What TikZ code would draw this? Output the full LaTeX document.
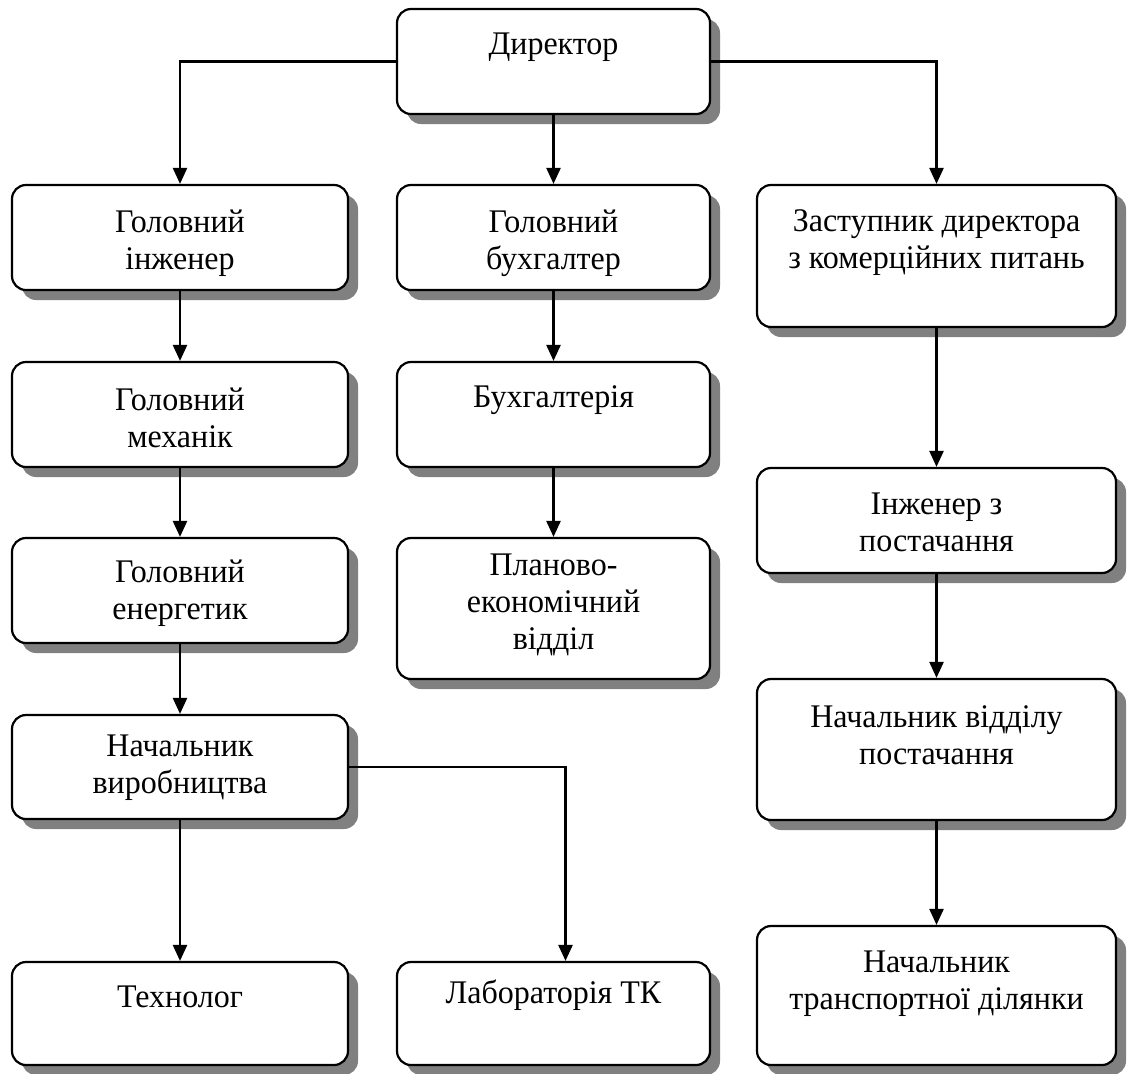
\documentclass[tikz,border=0pt]{standalone}
\usepackage{fontspec}
\setmainfont{Liberation Serif}
\newfontfamily\orgfont[FakeStretch=0.97]{Liberation Serif}
\usetikzlibrary{arrows.meta,shadows,fit}
\begin{document}
\begin{tikzpicture}[x=0.5pt,y=-0.5pt]
\tikzset{
 orgbox/.style={draw, line width=1.1pt, rounded corners=7pt, fill=white, inner sep=0pt,
   drop shadow={shadow xshift=5pt, shadow yshift=-5pt, fill=black!50, opacity=1}},
 lbl/.style={align=center, font=\orgfont\fontsize{16.5}{18.5}\selectfont, inner sep=0pt},
 arr/.style={line width=1.2pt, -{Triangle[length=8pt,width=7pt]}},
}
\useasboundingbox (0,0) rectangle (1128,1073);
% boxes
\node[orgbox, fit={(397,9) (710,114)}] (D) {};
\node[orgbox, fit={(12,185) (348,290)}] (GI) {};
\node[orgbox, fit={(397,185) (710,290)}] (GB) {};
\node[orgbox, fit={(757,185) (1116,327)}] (ZD) {};
\node[orgbox, fit={(12,362) (348,467)}] (GM) {};
\node[orgbox, fit={(397,362) (710,467)}] (BU) {};
\node[orgbox, fit={(757,468) (1116,573)}] (IP) {};
\node[orgbox, fit={(12,538) (348,643)}] (GE) {};
\node[orgbox, fit={(397,538) (710,679)}] (PE) {};
\node[orgbox, fit={(12,715) (348,819)}] (NV) {};
\node[orgbox, fit={(757,679) (1116,820)}] (NVP) {};
\node[orgbox, fit={(12,962) (348,1065)}] (TE) {};
\node[orgbox, fit={(397,962) (710,1065)}] (LA) {};
\node[orgbox, fit={(757,926) (1116,1065)}] (NT) {};
% labels
\node[lbl] (Dt) at (553.5,47) {Директор};
\node[lbl] (GIt) at (180,243) {Головний\\інженер};
\node[lbl] (GBt) at (553.5,243) {Головний\\бухгалтер};
\node[lbl] (ZDt) at (936.5,243) {Заступник директора\\з комерційних питань};
\node[lbl] (GMt) at (180,418) {Головний\\механік};
\node[lbl] (BUt) at (553.5,400) {Бухгалтерія};
\node[lbl] (IPt) at (936.5,522) {Інженер з\\постачання};
\node[lbl] (GEt) at (180,593) {Головний\\енергетик};
\node[lbl] (PEt) at (553.5,605) {Планово-\\економічний\\відділ};
\node[lbl] (NVt) at (180,768) {Начальник\\виробництва};
\node[lbl] (NVPt) at (936.5,735) {Начальник відділу\\постачання};
\node[lbl] (TEt) at (180,997) {Технолог};
\node[lbl] (LAt) at (553.5,995) {Лабораторія ТК};
\node[lbl] (NTt) at (936.5,984) {Начальник\\транспортної ділянки};
% connectors
\coordinate (labin) at ([xshift=6pt]LA.north);
\draw[arr] (D.south) -- (GB.north);
\draw[arr] (D.west) -| (GI.north);
\draw[arr] (D.east) -| (ZD.north);
\draw[arr] (GI.south) -- (GM.north);
\draw[arr] (GM.south) -- (GE.north);
\draw[arr] (GE.south) -- (NV.north);
\draw[arr] (NV.south) -- (TE.north);
\draw[arr] (NV.east) -| (labin);
\draw[arr] (GB.south) -- (BU.north);
\draw[arr] (BU.south) -- (PE.north);
\draw[arr] (ZD.south) -- (IP.north);
\draw[arr] (IP.south) -- (NVP.north);
\draw[arr] (NVP.south) -- (NT.north);
\end{tikzpicture}
\end{document}
